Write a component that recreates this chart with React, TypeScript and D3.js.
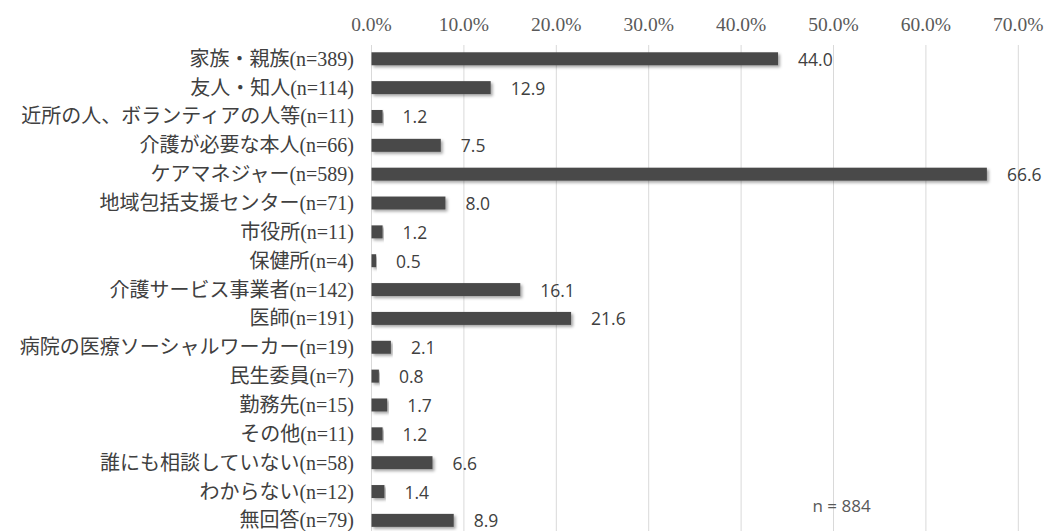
import React from "react";
import * as d3 from "d3";

const categories = [
  "家族・親族(n=389)",
  "友人・知人(n=114)",
  "近所の人、ボランティアの人等(n=11)",
  "介護が必要な本人(n=66)",
  "ケアマネジャー(n=589)",
  "地域包括支援センター(n=71)",
  "市役所(n=11)",
  "保健所(n=4)",
  "介護サービス事業者(n=142)",
  "医師(n=191)",
  "病院の医療ソーシャルワーカー(n=19)",
  "民生委員(n=7)",
  "勤務先(n=15)",
  "その他(n=11)",
  "誰にも相談していない(n=58)",
  "わからない(n=12)",
  "無回答(n=79)",
];
const values = [44.0, 12.9, 1.2, 7.5, 66.6, 8.0, 1.2, 0.5, 16.1, 21.6, 2.1, 0.8, 1.7, 1.2, 6.6, 1.4, 8.9];
const xTicks = [0, 10, 20, 30, 40, 50, 60, 70];
const noteText = "n = 884";

const W = 1046;
const H = 531;

export default function App() {
  const x = d3.scaleLinear().domain([0, 70]).range([371.5, 1018.3]);
  const step = 28.85;
  const y = d3
    .scaleBand<string>()
    .domain(categories)
    .range([44.35, 44.35 + categories.length * step])
    .paddingInner(0.55)
    .paddingOuter(0.275);
  const fmt = (v: number) => d3.format(".1f")(v) + "%";
  const labelFmt = d3.format(".1f");

  return (
    <div style={{ position: "fixed", left: 0, top: 0, width: W, height: H, background: "#fff" }}>
      <svg width={W} height={H} style={{ display: "block" }}>
        <defs>
          <filter id="shadow" x="-5%" y="-50%" width="115%" height="250%">
            <feDropShadow dx="2" dy="2" stdDeviation="1.6" floodColor="#000" floodOpacity="0.35" />
          </filter>
        </defs>
        <rect width={W} height={H} fill="#fff" />
        {xTicks.map((t) => (
          <g key={t}>
            <line x1={x(t)} x2={x(t)} y1={45} y2={H} stroke="#d9d9d9" strokeWidth={1} />
            <text
              x={x(t)}
              y={31}
              textAnchor="middle"
              fontFamily="'Liberation Serif', 'DejaVu Serif', serif"
              fontSize={19.5}
              fill="#595959"
            >
              {fmt(t)}
            </text>
          </g>
        ))}
        {categories.map((c, i) => {
          const yy = y(c)!;
          const bh = y.bandwidth();
          return (
            <g key={c}>
              <text
                x={354}
                y={yy + bh / 2}
                dominantBaseline="central"
                textAnchor="end"
                fontFamily="'Liberation Serif', 'Noto Sans CJK JP', serif"
                fontSize={20}
                fill="#404040"
              >
                {c}
              </text>
              <rect
                x={x(0)}
                y={yy}
                width={x(values[i]) - x(0)}
                height={bh}
                fill="#4a4a4a"
                filter="url(#shadow)"
              />
              <text
                x={x(values[i]) + 20}
                y={yy + bh / 2}
                dominantBaseline="central"
                fontFamily="'Open Sans', 'Noto Sans', sans-serif"
                fontSize={17.5}
                fill="#404040"
              >
                {labelFmt(values[i])}
              </text>
            </g>
          );
        })}
        <text
          x={812.5}
          y={505}
          dominantBaseline="central"
          fontFamily="'Open Sans', 'Noto Sans', sans-serif"
          fontSize={17}
          fill="#595959"
        >
          {noteText}
        </text>
      </svg>
    </div>
  );
}
